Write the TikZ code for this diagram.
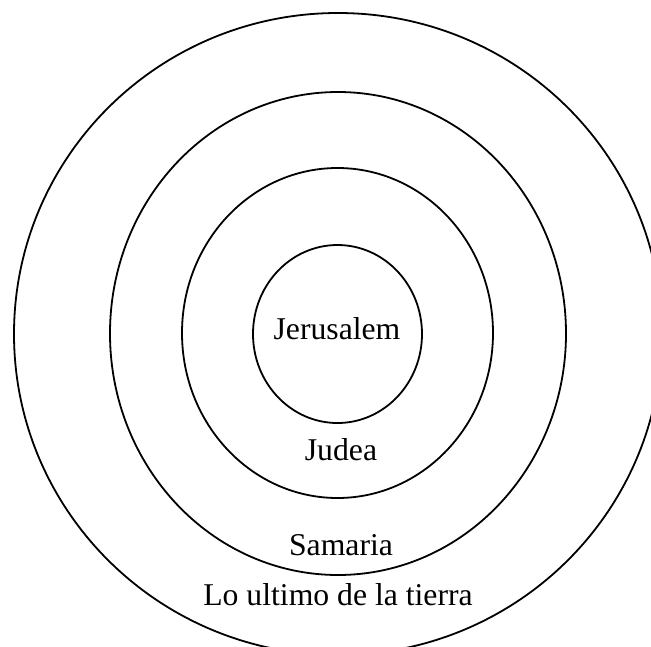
\documentclass[tikz,border=0pt]{standalone}
\usepackage{fontspec}
\setmainfont{Liberation Serif}
\tikzset{
  ring/.style={draw=black, line width=1.8pt},
  lbl/.style={anchor=base, inner sep=0pt, font=\fontsize{31.7}{36}\selectfont}
}
\begin{document}
\begin{tikzpicture}[x=1pt,y=-1pt]
\useasboundingbox (0,0) rectangle (651,646);
\clip (0,0) rectangle (651,646);
\draw[ring] (338,334) ellipse [x radius=324, y radius=321];
\draw[ring] (338,333.5) ellipse [x radius=228, y radius=241.5];
\draw[ring] (337.5,333) ellipse [x radius=155.5, y radius=165];
\draw[ring] (337.5,334) ellipse [x radius=84.5, y radius=89];
\node[lbl] (jer) at (337,339) {Jerusalem};
\node[lbl] (jud) at (341,460) {Judea};
\node[lbl] (sam) at (341,555) {Samaria};
\node[lbl] (lo) at (338,605) {Lo ultimo de la tierra};
\end{tikzpicture}
\end{document}
